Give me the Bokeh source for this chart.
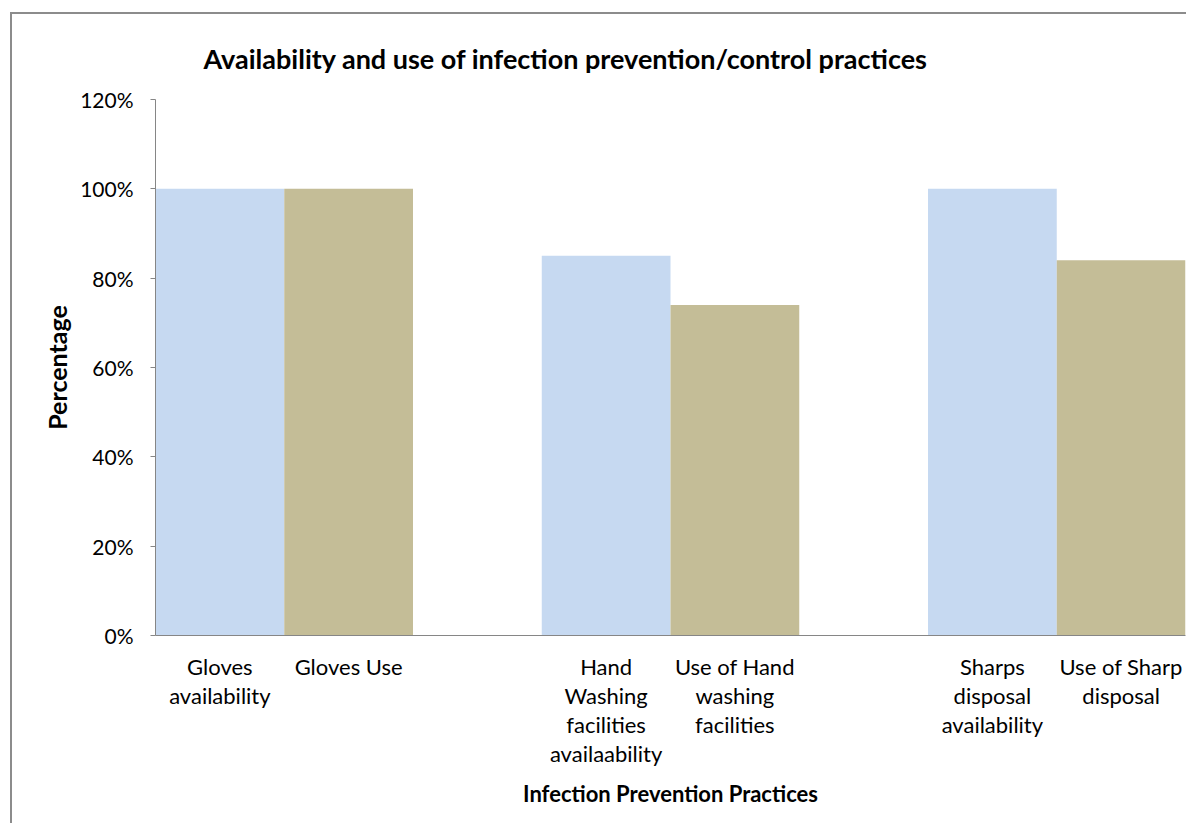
from bokeh.plotting import figure
from bokeh.models import ColumnDataSource, FactorRange, Range1d, PrintfTickFormatter, FixedTicker
from bokeh.embed import file_html
from bokeh.resources import INLINE

# ---- data ----
categories = ["Gloves\navailability", "Gloves Use",
              "Hand\nWashing\nfacilities\navailaability", "Use of Hand\nwashing\nfacilities",
              "Sharps\ndisposal\navailability", "Use of Sharp\ndisposal"]
values = [100, 100, 85, 74, 100, 84]
kinds = ["availability", "use", "availability", "use", "availability", "use"]
y_ticks = [0, 20, 40, 60, 80, 100, 120]
spacers = [" ", "  "]

colors_by_kind = {"availability": "#C6D9F1", "use": "#C4BD97"}
FONT = "Lato"

factors = categories[0:2] + [spacers[0]] + categories[2:4] + [spacers[1]] + categories[4:6]

src = ColumnDataSource(dict(x=categories, top=values,
                            color=[colors_by_kind[k] for k in kinds]))

p = figure(width=1176, height=811, output_backend="svg", toolbar_location=None,
           x_range=FactorRange(*factors, range_padding=0, factor_padding=0),
           y_range=Range1d(0, 120),
           min_border_left=143, min_border_right=3, min_border_top=85, min_border_bottom=190,
           title="Availability and use of infection prevention/control practices")
p.margin = (12, 0, 0, 10)
p.styles = {"border-left": "2px solid #8c8c8c", "border-top": "2px solid #8c8c8c"}

p.vbar(x="x", top="top", width=1.0, color="color", line_color=None, source=src)

p.title.text_font = FONT
p.title.text_font_style = "bold"
p.title.text_font_size = "27px"
p.title.text_color = "black"
p.title.align = "left"
p.title.offset = 48
p.title.standoff = 49

p.outline_line_color = None
p.xgrid.grid_line_color = None
p.ygrid.grid_line_color = None
p.background_fill_color = "white"
p.border_fill_color = "white"

# y axis
ya = p.yaxis[0]
ya.ticker = FixedTicker(ticks=y_ticks)
ya.formatter = PrintfTickFormatter(format="%d%%")
ya.axis_line_color = "#868686"
ya.major_tick_line_color = "#868686"
ya.major_tick_out = 5
ya.major_tick_in = 0
ya.minor_tick_line_color = None
ya.major_label_text_font = FONT
ya.major_label_text_font_size = "21px"
ya.major_label_text_color = "black"
ya.major_label_standoff = 17
ya.axis_label = "Percentage"
ya.axis_label_text_font = FONT
ya.axis_label_text_font_style = "bold"
ya.axis_label_text_font_size = "25px"
ya.axis_label_text_color = "black"
ya.axis_label_standoff = 5

# x axis
xa = p.xaxis[0]
xa.axis_line_color = "#868686"
xa.major_tick_line_color = None
xa.minor_tick_line_color = None
xa.major_label_text_font = FONT
xa.major_label_text_font_size = "22px"
xa.major_label_text_color = "black"
xa.major_label_text_line_height = 1.08
xa.major_label_standoff = 11
xa.axis_label = "Infection Prevention Practices"
xa.axis_label_text_font = FONT
xa.axis_label_text_font_style = "bold"
xa.axis_label_text_font_size = "22px"
xa.axis_label_text_color = "black"
xa.axis_label_standoff = 10

open("out.html", "w").write(file_html(p, INLINE))
